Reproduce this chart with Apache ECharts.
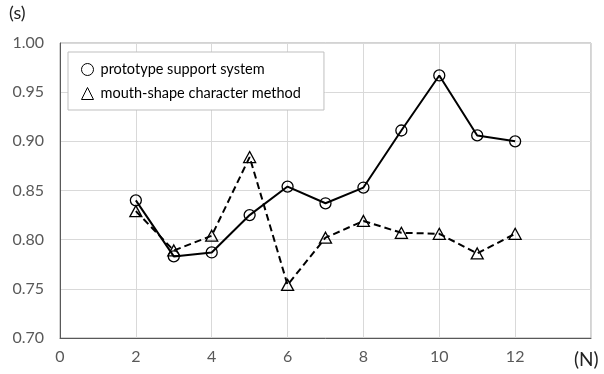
<!DOCTYPE html>
<html><head><meta charset="utf-8">
<script src="https://cdn.jsdelivr.net/npm/echarts@6/dist/echarts.min.js"></script>
<style>html,body{margin:0;padding:0;background:#fff}#c{width:604px;height:374px}</style>
</head><body><div id="c"></div>
<script>
const xValues = [2, 3, 4, 5, 6, 7, 8, 9, 10, 11, 12];
const prototypeValues = [0.840, 0.783, 0.787, 0.825, 0.854, 0.837, 0.853, 0.911, 0.967, 0.906, 0.900];
const mouthShapeValues = [0.829, 0.789, 0.804, 0.884, 0.754, 0.802, 0.819, 0.807, 0.806, 0.786, 0.806];
const seriesNames = ['prototype support system', 'mouth-shape character method'];
const yAxisUnit = '(s)';
const xAxisUnit = '(N)';

const FONT = 'Lato';
const chart = echarts.init(document.getElementById('c'));
const pairs = arr => xValues.map((x, i) => [x, arr[i]]);
chart.setOption({
  animation: false,
  grid: { left: 60, top: 43, right: 13, bottom: 36, show: true, borderColor: '#a6a6a6', borderWidth: 1 },
  legend: {
    left: 68, top: 52, orient: 'vertical',
    backgroundColor: '#fff', borderColor: '#bfbfbf', borderWidth: 1,
    padding: [10, 23, 9, 13], itemGap: 9, itemWidth: 12, itemHeight: 12,
    textStyle: { fontFamily: FONT, fontSize: 14.5, color: '#000', padding: [0, 0, 0, 2] },
    data: [
      { name: seriesNames[0], icon: 'circle', itemStyle: { color: 'transparent', borderColor: '#000', borderWidth: 1 } },
      { name: seriesNames[1], icon: 'triangle', itemStyle: { color: 'transparent', borderColor: '#000', borderWidth: 1 } }
    ]
  },
  xAxis: {
    type: 'value', min: 0, max: 14, interval: 2,
    axisLine: { show: true, lineStyle: { color: '#595959', width: 1 } },
    axisTick: { show: false },
    splitLine: { show: true, lineStyle: { color: '#d9d9d9', width: 1 } },
    axisLabel: { fontFamily: FONT, fontSize: 16, color: '#595959', margin: 11,
      formatter: v => v >= 14 ? '' : String(v) }
  },
  yAxis: {
    type: 'value', min: 0.70, max: 1.00, interval: 0.05,
    axisLine: { show: true, lineStyle: { color: '#595959', width: 1 } },
    axisTick: { show: false },
    splitLine: { show: true, lineStyle: { color: '#d9d9d9', width: 1 } },
    axisLabel: { fontFamily: FONT, fontSize: 16, color: '#595959', margin: 16,
      formatter: v => v.toFixed(2) }
  },
  graphic: [
    { type: 'text', left: 9, top: 4, style: { text: yAxisUnit, fontFamily: FONT, fontSize: 18, fill: '#222' } },
    { type: 'text', left: 574, top: 350, style: { text: xAxisUnit, fontFamily: FONT, fontSize: 19, fill: '#222' } }
  ],
  series: [
    {
      name: seriesNames[0], type: 'line', data: pairs(prototypeValues),
      symbol: 'circle', symbolSize: 11,
      lineStyle: { color: '#000', width: 2 },
      itemStyle: { color: 'transparent', borderColor: '#000', borderWidth: 1.3 }
    },
    {
      name: seriesNames[1], type: 'line', data: pairs(mouthShapeValues),
      symbol: 'triangle', symbolSize: [12, 11],
      lineStyle: { color: '#000', width: 2, type: [7, 4] },
      itemStyle: { color: 'transparent', borderColor: '#000', borderWidth: 1.3 }
    }
  ]
});
</script></body></html>
